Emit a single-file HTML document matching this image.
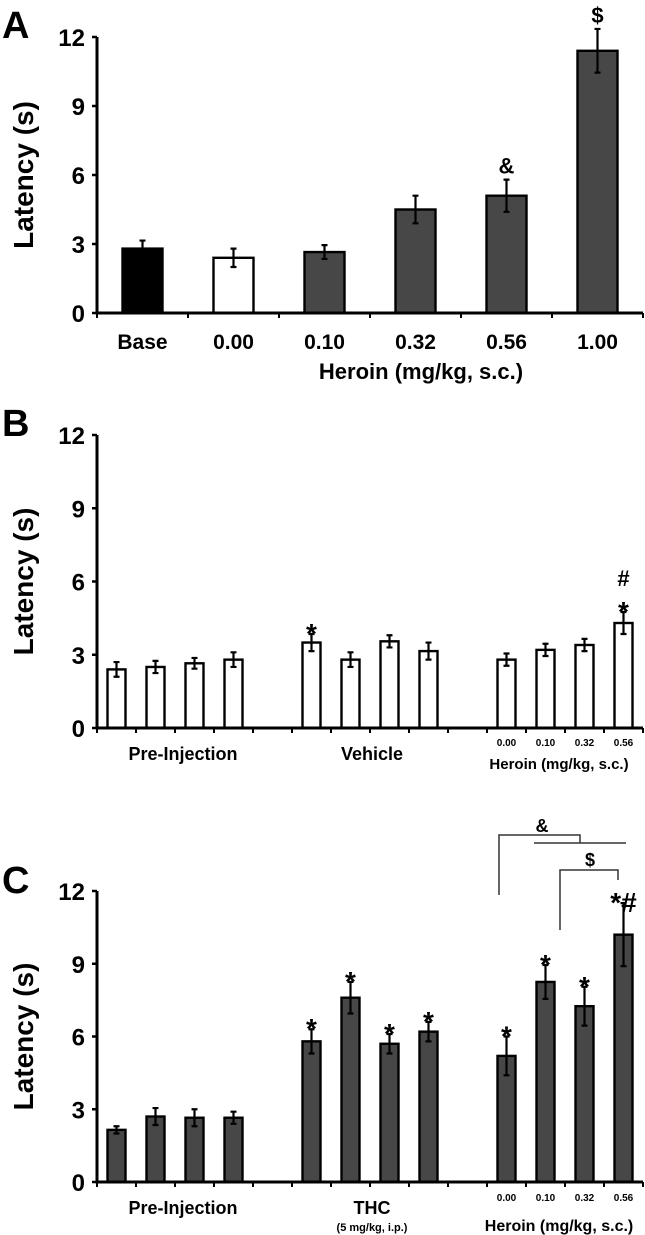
<!DOCTYPE html>
<html><head><meta charset="utf-8"><style>
html,body{margin:0;padding:0;background:#fff}
svg{display:block;font-family:"Liberation Sans",Arial,sans-serif;font-weight:bold}
</style></head><body>
<svg id="fig" width="645" height="1235" viewBox="0 0 645 1235" xmlns="http://www.w3.org/2000/svg"></svg>
<script>
const yTicks = [0, 3, 6, 9, 12];
// Panel A
const aCategories = ["Base", "0.00", "0.10", "0.32", "0.56", "1.00"];
const aValues = [2.8, 2.4, 2.65, 4.5, 5.1, 11.4];
const aErrors = [0.35, 0.4, 0.3, 0.6, 0.7, 0.95];
const aMarks = ["", "", "", "", "&", "$"];
// Panel B
const bValues = [2.4, 2.5, 2.65, 2.8, 3.5, 2.8, 3.55, 3.15, 2.8, 3.2, 3.4, 4.3];
const bErrors = [0.3, 0.25, 0.22, 0.3, 0.35, 0.3, 0.25, 0.35, 0.25, 0.25, 0.25, 0.45];
const bMarks = ["", "", "", "", "*", "", "", "", "", "", "", "*"];
// Panel C
const cValues = [2.15, 2.7, 2.65, 2.65, 5.8, 7.6, 5.7, 6.2, 5.2, 8.25, 7.25, 10.2];
const cErrors = [0.15, 0.35, 0.35, 0.25, 0.5, 0.65, 0.4, 0.4, 0.8, 0.7, 0.8, 1.3];
const cMarks = ["", "", "", "", "*", "*", "*", "*", "*", "*", "*", "*#"];
const doseLabels = ["0.00", "0.10", "0.32", "0.56"];

const NS = "http://www.w3.org/2000/svg";
const svg = document.getElementById("fig");
function el(tag, attrs, parent, text) {
  const e = document.createElementNS(NS, tag);
  for (const k in attrs) e.setAttribute(k, attrs[k]);
  if (text !== undefined) e.textContent = text;
  (parent || svg).appendChild(e);
  return e;
}
function txt(x, y, s, size, name, parent, anchor) {
  const t = el("text", {x: x, y: y, "font-size": size, "text-anchor": anchor || "middle", fill: "#000"}, parent, s);
  
  
  return t;
}

function panel(opt) {
  const g = el("g", {});
  
  
  const x0 = opt.x0, x1 = opt.x1, y0 = opt.y0, y12 = opt.y12;
  const ys = v => y0 - (v / 12) * (y0 - y12);
  const slotW = (x1 - x0) / opt.nSlots;
  const xs = i => x0 + (opt.slots[i] + 0.5) * slotW;
  txt(2, opt.letterY, opt.letter, 38, "panel-letter", g, "start");
  const yt = txt(0, 0, "Latency (s)", 28, "y-axis-title", g);
  yt.setAttribute("transform", `translate(${33},${(y0 + y12) / 2}) rotate(-90)`);
  yTicks.forEach(v => {
    const yy = ys(v);
    const tk = el("line", {x1: x0 - 5, x2: x0, y1: yy, y2: yy, stroke: "#000", "stroke-width": 2.5}, g);
    
    
    txt(x0 - 12, yy + 9, String(v), 24, "y-tick-label", g, "end");
  });
  for (let i = 0; i <= opt.nSlots; i++) {
    const xx = x0 + i * slotW;
    const tk = el("line", {x1: xx, x2: xx, y1: y0, y2: y0 + 5, stroke: "#000", "stroke-width": 2}, g);
    
    
  }
  opt.values.forEach((v, i) => {
    const cx = xs(i);
    const top = ys(v);
    const b = el("rect", {x: cx - opt.bw / 2, y: top, width: opt.bw, height: y0 - top, fill: opt.fill(i), stroke: "#000", "stroke-width": 2.4}, g);
    
    
    const e = opt.errors[i];
    const eb = el("path", {d: `M${cx},${ys(v - e)}V${ys(v + e)}M${cx - 3},${ys(v - e)}h6M${cx - 3},${ys(v + e)}h6`, stroke: "#000", "stroke-width": 2.2, fill: "none"}, g);
    
    
    const m = opt.marks[i];
    if (m) {
      const my = ys(v + e) - 6;
      if (m === "*" || m === "*#") txt(cx, my + 15, m, 28, "significance-mark", g);
      else txt(cx, my, m, 22, "significance-mark", g);
    }
  });
  const ax = el("path", {d: `M${x0},${y12}V${y0}H${x1}`, stroke: "#000", "stroke-width": 3, fill: "none"}, g);
  
  
  return {g, xs, ys, slotW};
}

const A = panel({name: "panel-a", letter: "A", letterY: 38, x0: 97, x1: 643, y0: 313, y12: 37, nSlots: 6,
  slots: [0, 1, 2, 3, 4, 5], bw: 40, values: aValues, errors: aErrors, marks: aMarks,
  fill: i => i === 0 ? "#000" : (i === 1 ? "#fff" : "#474747")});
aCategories.forEach((c, i) => txt(A.xs(i), 349, c, 21, "x-tick-label", A.g));
txt(421, 379, "Heroin (mg/kg, s.c.)", 22, "x-axis-title", A.g);

const slots12 = [0, 1, 2, 3, 5, 6, 7, 8, 10, 11, 12, 13];
const B = panel({name: "panel-b", letter: "B", letterY: 436, x0: 97, x1: 643, y0: 728, y12: 435, nSlots: 14,
  slots: slots12, bw: 18, values: bValues, errors: bErrors, marks: bMarks, fill: () => "#fff"});
txt(B.xs(11), B.ys(bValues[11] + bErrors[11]) - 26, "#", 22, "significance-mark", B.g);
txt(183, 760, "Pre-Injection", 18, "group-label", B.g);
txt(372, 760, "Vehicle", 18, "group-label", B.g);
doseLabels.forEach((d, i) => txt(B.xs(8 + i), 746, d, 10, "dose-label", B.g));
txt(559, 769, "Heroin (mg/kg, s.c.)", 15, "x-axis-title", B.g);

const C = panel({name: "panel-c", letter: "C", letterY: 893, x0: 97, x1: 643, y0: 1182, y12: 891, nSlots: 14,
  slots: slots12, bw: 18, values: cValues, errors: cErrors, marks: cMarks, fill: () => "#474747"});
txt(183, 1214, "Pre-Injection", 18, "group-label", C.g);
txt(372, 1214, "THC", 18, "group-label", C.g);
txt(372, 1231, "(5 mg/kg, i.p.)", 11, "group-sublabel", C.g);
doseLabels.forEach((d, i) => txt(C.xs(8 + i), 1201, d, 10, "dose-label", C.g));
txt(559, 1231, "Heroin (mg/kg, s.c.)", 16, "x-axis-title", C.g);
const br1 = el("path", {d: "M499,895V835H580V843M534,843H626", stroke: "#333", "stroke-width": 1.5, fill: "none"}, C.g);


txt(542, 832, "&", 18, "bracket-label", C.g);
const br2 = el("path", {d: "M560,930V870H618V880", stroke: "#333", "stroke-width": 1.5, fill: "none"}, C.g);


txt(590, 866, "$", 18, "bracket-label", C.g);
</script>
</body></html>
